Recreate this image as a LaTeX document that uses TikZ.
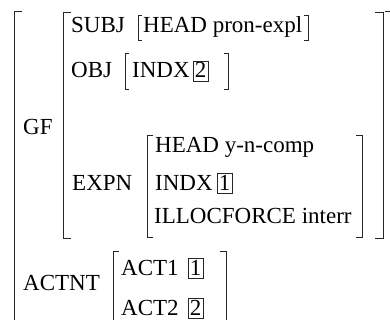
\documentclass[tikz,border=0pt]{standalone}
\usepackage{fontspec}
\setmainfont{Liberation Serif}
\begin{document}
\begin{tikzpicture}[x=1pt,y=-1pt,
  lbl/.style={anchor=base west, inner sep=0pt, font=\fontsize{23}{27}\selectfont},
  brk/.style={line width=0.8pt, black!85},
  numbox/.style={draw, line width=0.8pt, black!85, text=black, anchor=base west, inner sep=0pt, minimum width=14.5pt, text height=16.5pt, text depth=3pt, font=\fontsize{23}{27}\selectfont}]
\useasboundingbox (0,0) rectangle (390,320);
\clip (0,0) rectangle (390,320);
% outer matrix
\draw[brk] (22,11) -- (14,11) -- (14,340);
\draw[brk] (385,11) -- (393,11) -- (393,340);
% GF value
\node[lbl] (gf) at (23,135) {GF};
\draw[brk] (71,12) -- (63,12) -- (63,238) -- (71,238);
\draw[brk] (375,12) -- (383,12) -- (383,238) -- (375,238);
% SUBJ
\node[lbl] (subj) at (71,33) {SUBJ};
\draw[brk] (142,15) -- (138,15) -- (138,40) -- (142,40);
\node[lbl] (subjv) at (143,33) {HEAD pron-expl};
\draw[brk] (304,15) -- (308,15) -- (308,40) -- (304,40);
% OBJ
\node[lbl] (obj) at (71,78) {OBJ};
\draw[brk] (129,53) -- (125,53) -- (125,89) -- (129,89);
\node[lbl] (objindx) at (132,78) {INDX};
\node[numbox] (box2a) at (193,78) {2};
\draw[brk] (224,53) -- (228,53) -- (228,89) -- (224,89);
% EXPN
\node[lbl] (expn) at (72,190) {EXPN};
\draw[brk] (153,135) -- (147,135) -- (147,237) -- (153,237);
\draw[brk] (356,135) -- (362,135) -- (362,237) -- (356,237);
\node[lbl] (head) at (155,153) {HEAD y-n-comp};
\node[lbl] (indx) at (155,190) {INDX};
\node[numbox] (box1a) at (217,190) {1};
\node[lbl] (illoc) at (154,223) {ILLOCFORCE interr};
% ACTNT
\node[lbl] (actnt) at (23,290) {ACTNT};
\draw[brk] (119,251) -- (113,251) -- (113,340);
\draw[brk] (220,251) -- (226,251) -- (226,340);
\node[lbl] (act1) at (121,275) {ACT1};
\node[numbox] (box1b) at (188,275) {1};
\node[lbl] (act2) at (121,315) {ACT2};
\node[numbox] (box2b) at (188,315) {2};
\end{tikzpicture}
\end{document}
